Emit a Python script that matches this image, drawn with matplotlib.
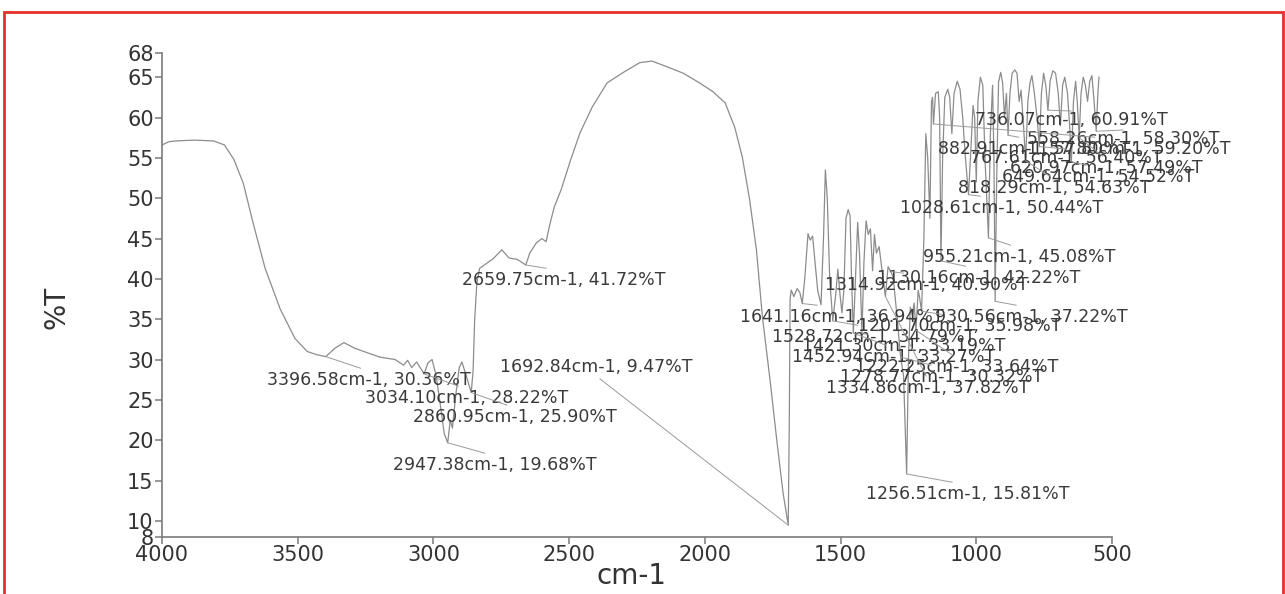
import matplotlib
matplotlib.use("Agg")
import matplotlib.pyplot as plt
from matplotlib.patches import Rectangle

# IR spectrum: wavenumber (cm-1) and transmittance (%T)
wavenumber = [
    4000, 3975, 3950, 3880, 3810, 3770, 3735, 3700, 3665, 3620, 3565, 3510,
    3465, 3430, 3396.58, 3363, 3330, 3290, 3240, 3197, 3141, 3110, 3095, 3080,
    3062, 3034.10, 3020, 3005, 2990, 2975, 2960, 2947.38, 2938, 2930, 2918,
    2905, 2895, 2885, 2872, 2860.95, 2854, 2848, 2840, 2830, 2805, 2780, 2748,
    2722, 2690, 2659.75, 2645, 2620, 2600, 2585, 2570, 2555, 2530, 2495, 2460,
    2415, 2360, 2300, 2240, 2195, 2140, 2080, 2020, 1970, 1925, 1890, 1862,
    1835, 1810, 1788, 1760, 1735, 1712, 1692.84, 1689, 1686, 1682, 1672, 1660,
    1650, 1641.16, 1632, 1620, 1612, 1603, 1594, 1584, 1572, 1563, 1556, 1549,
    1540, 1528.72, 1518, 1510, 1502, 1495, 1488, 1480, 1472, 1465, 1460,
    1452.94, 1445, 1437, 1430, 1421.30, 1414, 1406, 1398, 1390, 1382, 1375,
    1368, 1358, 1347, 1334.86, 1325, 1314.92, 1306, 1294, 1278.77, 1268,
    1256.51, 1250, 1243, 1236, 1229, 1222.25, 1214, 1208, 1201.70, 1193, 1186,
    1179, 1171, 1165, 1161, 1157.80, 1150, 1140, 1135, 1130.16, 1124, 1116,
    1105, 1098, 1090, 1082, 1070, 1060, 1050, 1040, 1028.61, 1020, 1012, 1006,
    1000, 994, 985, 976, 968, 955.21, 948, 940, 935, 930.56, 925, 918, 910,
    903, 896, 889, 882.91, 876, 868, 858, 850, 842, 835, 826, 818.29, 810, 802,
    795, 786, 776, 767.61, 760, 752, 744, 736.07, 728, 718, 708, 698, 690, 682,
    674, 664, 656, 649.64, 642, 634, 628, 620.97, 614, 606, 598, 590, 582, 574,
    566, 558.26, 552, 548,
]
transmittance = [
    56.6, 57.0, 57.1, 57.2, 57.1, 56.6, 54.8, 51.8, 47.0, 41.3, 36.3, 32.6,
    31.0, 30.6, 30.36, 31.4, 32.1, 31.4, 30.8, 30.3, 30.0, 29.3, 29.9, 29.0,
    29.7, 28.22, 29.6, 30.0, 28.0, 24.5, 20.8, 19.68, 22.5, 21.5, 25.5,
    29.0, 29.7, 28.6, 27.2, 25.90, 28.5, 35.0, 39.5, 41.3, 41.9, 42.5, 43.6,
    42.6, 42.4, 41.72, 43.2, 44.5, 45.0, 44.6, 46.9, 48.9, 51.0, 54.7, 58.1,
    61.3, 64.3, 65.6, 66.8, 67.0, 66.3, 65.5, 64.3, 63.2, 61.8, 58.8, 55.1,
    49.8, 43.6, 35.3, 27.5, 20.0, 13.5, 9.47, 22.0, 37.5, 38.6, 37.8, 38.8,
    38.3, 36.94, 40.0, 45.6, 44.8, 45.3, 42.0, 38.5, 36.8, 45.0, 53.5, 50.0,
    40.0, 34.79, 38.0, 41.2, 38.0, 35.8, 38.5, 47.5, 48.6, 47.8, 40.5,
    33.27, 40.0, 47.0, 43.0, 33.19, 42.0, 47.2, 45.5, 46.2, 41.0, 45.5,
    43.2, 44.0, 41.0, 37.82, 41.5, 40.90, 40.2, 36.0, 30.32, 28.0,
    15.81, 30.0, 36.5, 35.5, 37.0, 33.64, 38.6, 37.5, 35.98, 45.0, 58.0,
    55.0, 47.5, 62.0, 62.5, 59.20, 63.0, 63.2, 60.0, 42.22, 55.0, 62.5,
    63.5, 62.5, 58.0, 63.0, 64.5, 63.5, 60.0, 55.0, 50.44, 56.0, 61.5, 60.0,
    52.0, 62.0, 65.0, 64.0, 55.0, 45.08, 58.0, 64.0, 55.0, 37.22, 52.0, 64.4, 65.6,
    64.3, 60.0, 63.0, 57.80, 63.0, 65.5, 65.9, 65.5, 62.0, 63.4, 59.0, 54.63, 62.0, 64.3,
    65.2, 63.0, 60.0, 56.40, 63.0, 65.5, 64.0, 60.91, 64.5, 65.8, 65.5, 63.0, 59.0, 64.0,
    65.0, 63.0, 59.0, 54.52, 62.0, 64.5, 62.0, 57.49, 63.0, 65.0, 64.0, 62.0, 64.5, 65.2,
    62.0, 58.30, 63.0, 65.0,
]

# picked peaks printed on the chart
peak_wn = [736.07, 558.26, 882.91, 1157.80, 767.61, 620.97, 649.64, 818.29,
           1028.61, 955.21, 1130.16, 1314.92, 1641.16, 930.56, 1201.70,
           1528.72, 1421.30, 1452.94, 1222.25, 1278.77, 1334.86, 1256.51,
           3396.58, 3034.10, 2860.95, 2947.38, 1692.84, 2659.75]
peak_t = [60.91, 58.30, 57.80, 59.20, 56.40, 57.49, 54.52, 54.63,
          50.44, 45.08, 42.22, 40.90, 36.94, 37.22, 35.98,
          34.79, 33.19, 33.27, 33.64, 30.32, 37.82, 15.81,
          30.36, 28.22, 25.90, 19.68, 9.47, 41.72]

# where each label sits on the page (left edge, centre line), pixels from top-left
label_px = [(975, 120), (1027, 139), (938, 149), (1027, 149), (970, 158),
            (1010, 168), (1002, 177), (958, 188), (900, 208), (923, 257),
            (877, 278), (825, 285), (740, 317), (935, 317), (858, 326),
            (772, 337), (802, 346), (792, 357), (855, 367), (840, 377),
            (826, 388), (866, 494), (267, 380), (365, 398), (413, 417),
            (393, 465), (500, 367), (462, 280)]

W, H = 1285, 594
fig = plt.figure(figsize=(W / 100, H / 100), dpi=100)
ax = fig.add_axes([162 / W, 1 - 537 / H, (1112 - 162) / W, (537 - 53) / H])

ax.plot(wavenumber, transmittance, color="#8c8c8c", lw=0.9)
ax.set_xlim(4000, 500)
ax.set_ylim(8, 68)
ax.set_xticks([4000, 3500, 3000, 2500, 2000, 1500, 1000, 500])
ax.set_yticks([8, 10, 15, 20, 25, 30, 35, 40, 45, 50, 55, 60, 65, 68])

for side in ["top", "right"]:
    ax.spines[side].set_visible(False)
for side in ["left", "bottom"]:
    ax.spines[side].set_color("#7a7a7a")
    ax.spines[side].set_linewidth(1.2)
ax.tick_params(direction="out", length=5, width=1.1, color="#7a7a7a",
               labelcolor="#333333", labelsize=15, pad=1)

for wn, t, (lx, ly) in zip(peak_wn, peak_t, label_px):
    py = ax.transData.transform((wn, t))[1]
    rel_y = 1 if py > H - ly else 0
    ax.annotate(f"{wn:.2f}cm-1, {t:.2f}%T", xy=(wn, t),
                xytext=(lx, H - ly), textcoords="figure pixels",
                ha="left", va="center", fontsize=12.5, color="#3a3a3a",
                arrowprops=dict(arrowstyle="-", color="#9a9a9a", lw=0.7,
                                shrinkA=0, shrinkB=0, relpos=(0.5, rel_y)),
                annotation_clip=False)

fig.text(57 / W, 1 - 307 / H, "%T", rotation=90, ha="center", va="center",
         fontsize=20, color="#333333")
fig.text(632 / W, 1 - 576 / H, "cm-1", ha="center", va="center",
         fontsize=20, color="#333333")

# red frame around the scanned page
fig.patches.append(Rectangle((4 / W, -0.05), (W - 6) / W, 1.05 - 12 / H,
                             transform=fig.transFigure, fill=False,
                             edgecolor="#e8302a", lw=2))

fig.savefig("out.png", dpi=100)
